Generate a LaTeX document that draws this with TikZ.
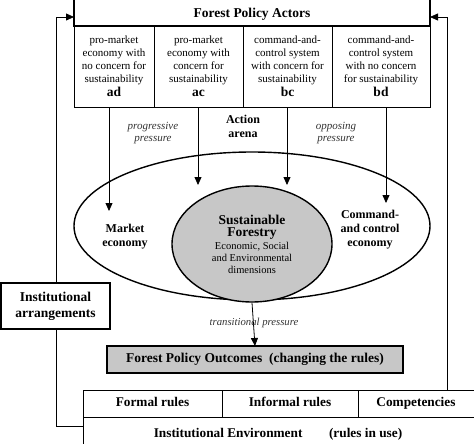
\documentclass[tikz,border=0pt]{standalone}
\usepackage{fontspec}
\setmainfont{Liberation Serif}
\usetikzlibrary{positioning,arrows.meta,shapes.geometric}

\begin{document}
\begin{tikzpicture}[
    x=1pt, y=-1pt,
    >={Triangle[length=8pt,width=7pt]},
    cell/.style={draw, line width=0.8pt, align=center, outer sep=0pt, inner sep=0pt,
                 minimum height=81pt, font=\fontsize{11}{12.8}\selectfont},
    lbl/.style={align=center, font=\fontsize{12}{14}\selectfont\bfseries},
    press/.style={align=center, text=black!80, font=\fontsize{11}{12.6}\selectfont\itshape},
    thickbox/.style={draw, line width=1.4pt, outer sep=0pt, align=center,
                     font=\fontsize{13.5}{16}\selectfont\bfseries},
    rule/.style={draw, line width=1pt, outer sep=0pt, inner sep=0pt, minimum height=27pt,
                 text height=9.5pt, text depth=3pt,
                 font=\fontsize{13.3}{15}\selectfont\bfseries},
    node distance=0pt,
  ]
    \useasboundingbox (0,0) rectangle (474,444);
    \clip (0,0) rectangle (474,444);
    % actors and their four positions
    \node[thickbox, anchor=south, minimum width=356pt, inner sep=0pt,
          text height=22pt, text depth=8pt] (actors) at (252,26) {Forest Policy Actors};
    \node[cell, anchor=north west, minimum width=80pt] (ad) at (74,26)
      {pro-market\\economy with\\no concern for\\sustainability\\[2pt]{\fontsize{13.5}{15}\selectfont\bfseries ad}};
    \node[cell, minimum width=89pt, right=of ad] (ac)
      {pro-market\\economy with\\concern for\\sustainability\\[2pt]{\fontsize{13.5}{15}\selectfont\bfseries ac}};
    \node[cell, minimum width=89pt, right=of ac] (bc)
      {command-and-\\control system\\with concern for\\sustainability\\[2pt]{\fontsize{13.5}{15}\selectfont\bfseries bc}};
    \node[cell, minimum width=98pt, right=of bc] (bd)
      {command-and-\\control system\\with no concern\\for sustainability\\[2pt]{\fontsize{13.5}{15}\selectfont\bfseries bd}};

    % action arena
    \node[press] (prog) at (153,133) {progressive\\pressure};
    \node[lbl] (actarena) at (243,126) {Action\\arena};
    \node[press] (opp) at (336,133) {opposing\\pressure};
    \node[ellipse, draw, line width=1.4pt, minimum width=356pt, minimum height=148pt] (arena) at (252,226) {};
    \node[ellipse, draw, line width=1.4pt, fill=black!22, minimum width=160pt, minimum height=116pt,
          align=center, inner sep=0pt] (forestry) at (252,244)
      {\fontsize{13.5}{14}\selectfont\bfseries Sustainable\\\fontsize{13.5}{14}\selectfont\bfseries Forestry\\[1pt]
       \fontsize{10.5}{12.5}\selectfont Economic, Social\\\fontsize{10.5}{12.5}\selectfont and Environmental\\\fontsize{10.5}{12.5}\selectfont dimensions};
    \node[lbl] (market) at (125,237) {Market\\economy};
    \node[lbl] (command) at (370,230) {Command-\\and control\\economy};

    \coordinate (tipad) at (109,211);
    \coordinate (tipac) at (198,185);
    \coordinate (tipbc) at (287,185);
    \coordinate (tipbd) at (386,203);
    \draw[->, line width=0.8pt] (ad.south -| tipad) -- (tipad);
    \draw[->, line width=0.8pt] (ac.south -| tipac) -- (tipac);
    \draw[->, line width=0.8pt] (bc.south -| tipbc) -- (tipbc);
    \draw[->, line width=0.8pt] (bd.south -| tipbd) -- (tipbd);

    % outcomes
    \node[thickbox, fill=black!22, minimum width=296pt, minimum height=27pt] (outcomes) at (255,359.5)
      {Forest Policy Outcomes\ \ (changing the rules)};
    \draw[->, line width=0.8pt] (forestry.south) -- (outcomes.north);
    \node[press, font=\fontsize{10.7}{12}\selectfont\itshape] (trans) at (254,323) {transitional pressure};

    % institutions
    \node[thickbox, minimum width=109pt, minimum height=46pt] (instarr) at (55.5,306)
      {Institutional\\arrangements};
    \node[rule, anchor=north west, minimum width=139pt] (formal) at (83,390) {Formal rules};
    \node[rule, minimum width=136pt, right=of formal] (informal) {Informal rules};
    \node[rule, minimum width=130pt, right=of informal] (comp) {Competencies\hspace*{14pt}};
    \node[rule, anchor=north west, minimum width=410pt, minimum height=34pt] (env) at (formal.south west)
      {Institutional Environment\hspace{2em}(rules in use)\hspace*{20pt}};

    % feedback
    \coordinate (lk) at (56,17);
    \coordinate (lb) at (56,426);
    \coordinate (rk) at (447,17);
    \draw[->, line width=0.8pt] (instarr.north -| lk) -- (lk) -- (actors.west |- lk);
    \draw[line width=0.8pt] (instarr.south -| lb) -- (lb) -- (env.west |- lb);
    \draw[->, line width=0.8pt] (comp.north -| rk) -- (rk) -- (actors.east |- rk);
\end{tikzpicture}
\end{document}
